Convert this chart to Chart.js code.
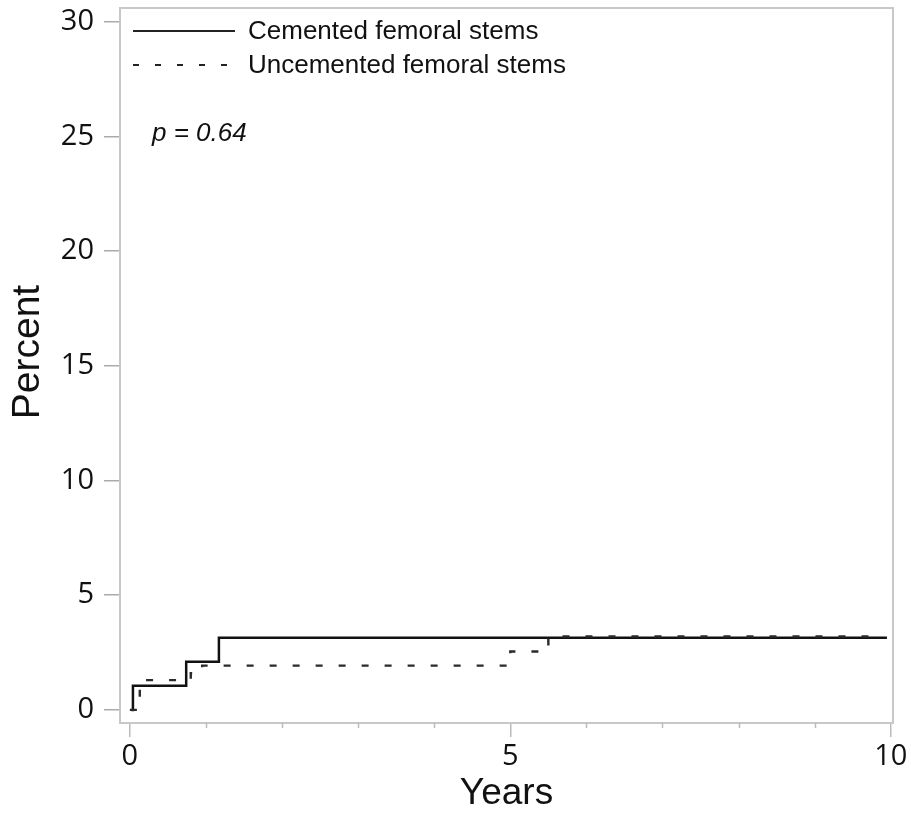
<!DOCTYPE html>
<html>
<head>
<meta charset="utf-8">
<script src="https://cdn.jsdelivr.net/npm/chart.js@4/dist/chart.umd.min.js"></script>
<style>
  html, body { margin: 0; padding: 0; background: #fff; }
  #wrap { width: 911px; height: 830px; position: relative; }
</style>
</head>
<body>
<div id="wrap"><canvas id="c" width="911" height="830"></canvas></div>
<script>
// ---- Data ----
const cementedYears   = [0.02, 0.04, 0.74, 1.17, 9.95];
const cementedPct     = [0, 1.05, 2.1, 3.15, 3.15];
const uncementedYears = [0, 0.13, 0.8, 0.95, 5.0, 5.5, 9.9];
const uncementedPct   = [0, 1.3, 1.6, 1.93, 2.55, 3.2, 3.2];
const xTicks      = [0, 5, 10];
const xMinorTicks = [1, 2, 3, 4, 6, 7, 8, 9];
const yTicks      = [0, 5, 10, 15, 20, 25, 30];
const seriesNames = ['Cemented femoral stems', 'Uncemented femoral stems'];
const yTitle = 'Percent';
const pText = 'p = 0.64';

const toPts = (xs, ys) => xs.map((x, i) => ({ x: x, y: ys[i] }));

const frame = {
  id: 'frame',
  beforeDatasetsDraw(chart) {
    const { ctx, chartArea: a, scales } = chart;
    ctx.save();
    ctx.strokeStyle = '#c8c8c8';
    ctx.lineWidth = 2;
    ctx.strokeRect(a.left, a.top, a.right - a.left, a.bottom - a.top);
    ctx.strokeStyle = '#bbbbbb';
    ctx.lineWidth = 1.5;
    xMinorTicks.forEach(v => {
      const px = Math.round(scales.x.getPixelForValue(v)) + 0.5;
      ctx.beginPath();
      ctx.moveTo(px, a.bottom);
      ctx.lineTo(px, a.bottom + 5);
      ctx.stroke();
    });
    // y axis title
    ctx.save();
    ctx.translate(28, 352);
    ctx.rotate(-Math.PI / 2);
    ctx.font = '39px "Liberation Sans", Arial, sans-serif';
    ctx.fillStyle = '#111';
    ctx.textAlign = 'center';
    ctx.textBaseline = 'middle';
    ctx.fillText(yTitle, 0, 0);
    ctx.restore();
    ctx.restore();
  },
  afterDraw(chart) {
    const { ctx } = chart;
    const ds = chart.data.datasets;
    ctx.save();
    ctx.font = '26px "Liberation Sans", Arial, sans-serif';
    ctx.textBaseline = 'middle';
    ctx.fillStyle = '#111';
    const rows = [{ y: 31, d: ds[0], dash: [] }, { y: 65, d: ds[1], dash: [6, 16] }];
    rows.forEach(r => {
      ctx.beginPath();
      ctx.strokeStyle = '#222';
      ctx.lineWidth = 1.8;
      ctx.setLineDash(r.dash);
      ctx.moveTo(133, r.y);
      ctx.lineTo(235, r.y);
      ctx.stroke();
      ctx.setLineDash([]);
      ctx.fillText(r.d.label, 248, r.y + 1);
    });
    ctx.font = 'italic 26px "Liberation Sans", Arial, sans-serif';
    ctx.fillText(pText, 152, 134);
    ctx.restore();
  }
};

new Chart(document.getElementById('c'), {
  type: 'scatter',
  data: {
    datasets: [
      {
        label: seriesNames[0],
        data: toPts(cementedYears, cementedPct),
        showLine: true, stepped: 'before',
        borderColor: '#111111', borderWidth: 2.5,
        pointRadius: 0, order: 1
      },
      {
        label: seriesNames[1],
        data: toPts(uncementedYears, uncementedPct),
        showLine: true, stepped: 'before',
        borderColor: '#2a2a2a', borderWidth: 2.4, borderDash: [7, 16],
        pointRadius: 0, order: 0
      }
    ]
  },
  options: {
    responsive: false,
    animation: false,
    devicePixelRatio: 1,
    layout: { padding: { top: 8, right: 18, left: 0, bottom: 0 } },
    plugins: { legend: { display: false }, tooltip: { enabled: false } },
    scales: {
      x: {
        type: 'linear', min: -0.13, max: 10.03,
        afterBuildTicks: s => { s.ticks = xTicks.map(v => ({ value: v })); },
        afterFit: s => { s.height = 107; s.paddingLeft = 0; s.paddingRight = 0; },
        grid: { display: true, drawOnChartArea: false, drawTicks: true, tickLength: 14, color: '#bbbbbb', lineWidth: 1.5 },
        border: { display: false },
        ticks: { color: '#111', padding: 2, font: { family: '"Open Sans", sans-serif', size: 29 }, maxRotation: 0 },
        title: { display: true, text: 'Years', color: '#111', padding: { top: 0, bottom: 14 }, font: { family: '"Liberation Sans", Arial, sans-serif', size: 37 } }
      },
      y: {
        type: 'linear', min: -0.57, max: 30.6,
        afterBuildTicks: s => { s.ticks = yTicks.map(v => ({ value: v })); },
        afterFit: s => { s.width = 120; s.paddingTop = 0; s.paddingBottom = 0; },
        grid: { display: true, drawOnChartArea: false, drawTicks: true, tickLength: 16, color: '#aaaaaa', lineWidth: 1.5 },
        border: { display: false },
        ticks: { color: '#111', padding: 10, font: { family: '"Open Sans", sans-serif', size: 29 } },
        title: { display: false }
      }
    }
  },
  plugins: [frame]
});
</script>
</body>
</html>
